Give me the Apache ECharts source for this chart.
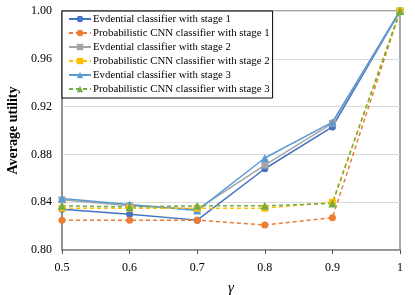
<!DOCTYPE html>
<html><head><meta charset="utf-8">
<script src="https://cdn.jsdelivr.net/npm/echarts@6/dist/echarts.min.js"></script>
<style>html,body{margin:0;padding:0;background:#fff}#c{width:415px;height:295px}</style>
</head><body><div id="c"></div>
<script>
var categories = ['0.5','0.6','0.7','0.8','0.9','1'];
var evidential1 = [0.834, 0.830, 0.825, 0.868, 0.903, 1.000];
var probCNN1 = [0.825, 0.825, 0.825, 0.821, 0.827, 1.000];
var evidential2 = [0.842, 0.837, 0.834, 0.871, 0.906, 1.000];
var probCNN2 = [0.835, 0.835, 0.835, 0.835, 0.840, 1.000];
var evidential3 = [0.843, 0.838, 0.833, 0.877, 0.907, 1.000];
var probCNN3 = [0.837, 0.836, 0.837, 0.837, 0.839, 1.000];
var names = ['Evdential classifier with stage 1','Probabilistic CNN classifier with stage 1','Evdential classifier with stage 2','Probabilistic CNN classifier with stage 2','Evdential classifier with stage 3','Probabilistic CNN classifier with stage 3'];

var font = '"Liberation Serif","Times New Roman",serif';
function mk(name, data, color, symbol, dashed){
  return {name:name, type:'line', data:data, symbol:symbol, symbolSize: symbol==='triangle'?8:7,
    lineStyle:{color:color, width:1.5, type: dashed?[4,3]:'solid'}, itemStyle:{color:color}, z: dashed?3:2};
}
var chart = echarts.init(document.getElementById('c'), null, {renderer:'canvas'});
chart.setOption({
  animation:false,
  textStyle:{fontFamily:font},
  grid:{left:62, right:15, top:11, bottom:45, outerBoundsMode:'none', containLabel:false, show:true, borderColor:'#8a8a8a', borderWidth:1.5, backgroundColor:'transparent'},
  legend:{orient:'vertical', left:62, top:11, backgroundColor:'#fff', borderColor:'#000', borderWidth:1,
    padding:[1,3,2,6], itemGap:0, itemWidth:22, itemHeight:8,
    textStyle:{fontFamily:font, fontSize:10.8, lineHeight:14, color:'#000', padding:[0,0,0,-3]}, data:names, z:10},
  xAxis:{type:'category', data:categories, boundaryGap:false,
    name:'γ', nameLocation:'middle', nameGap:31, nameTextStyle:{fontFamily:font, fontSize:15, fontStyle:'italic', color:'#000'},
    axisLine:{lineStyle:{color:'#8a8a8a', width:1.5}}, axisTick:{show:true, inside:false, length:4, lineStyle:{color:'#555'}},
    axisLabel:{fontFamily:font, fontSize:12, color:'#000', margin:12}, splitLine:{show:false}},
  yAxis:{type:'value', min:0.80, max:1.00, interval:0.04,
    name:'Average utility', nameLocation:'middle', nameGap:34, nameTextStyle:{fontFamily:font, fontSize:14, fontWeight:'bold', color:'#000'},
    axisLine:{show:true, lineStyle:{color:'#8a8a8a', width:1.5}}, axisTick:{show:false},
    axisLabel:{fontFamily:font, fontSize:12, color:'#000', margin:10, formatter:function(v){return v.toFixed(2);}},
    splitLine:{lineStyle:{color:'#d9d9d9', width:1}}},
  series:[
    mk(names[0], evidential1, '#4472C4', 'circle', false),
    mk(names[1], probCNN1, '#ED7D31', 'circle', true),
    mk(names[2], evidential2, '#A5A5A5', 'rect', false),
    mk(names[3], probCNN2, '#FFC000', 'rect', true),
    mk(names[4], evidential3, '#5B9BD5', 'triangle', false),
    mk(names[5], probCNN3, '#70AD47', 'triangle', true)
  ]
});
</script></body></html>
